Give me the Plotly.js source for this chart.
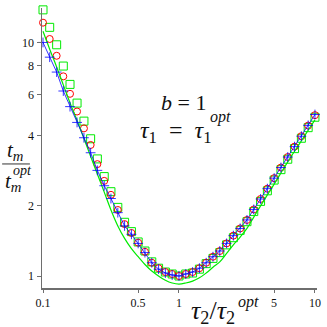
<!DOCTYPE html>
<html>
<head>
<meta charset="utf-8">
<script src="https://cdn.plot.ly/plotly-3.0.1.min.js"></script>
<style>
  html, body { margin: 0; padding: 0; background: #fff; }
  #plot { width: 327px; height: 327px; }
</style>
</head>
<body>
<div id="plot"></div>
<script>
// tau2 / tau2_opt (log-spaced)
const tauRatio = [0.1, 0.112, 0.126, 0.141, 0.158, 0.178, 0.2, 0.224, 0.251, 0.282,
    0.316, 0.355, 0.398, 0.447, 0.501, 0.562, 0.631, 0.708, 0.794, 0.891,
    1, 1.122, 1.259, 1.413, 1.585, 1.778, 1.995, 2.239, 2.512, 2.818,
    3.162, 3.548, 3.981, 4.467, 5.012, 5.623, 6.31, 7.079, 7.943, 8.913, 10];

// t_m / t_m_opt
const squaresGreen = [13.87, 11.67, 9.82, 7.96, 6.64, 5.52, 4.62, 3.88, 3.18, 2.67,
    2.30, 1.97, 1.70, 1.55, 1.40, 1.28, 1.15, 1.08, 1.04, 1.02,
    1.00, 1.02, 1.03, 1.07, 1.13, 1.19, 1.26, 1.36, 1.46, 1.57,
    1.71, 1.89, 2.09, 2.32, 2.58, 2.86, 3.17, 3.52, 3.90, 4.33, 4.80];
const circlesRed = [12.22, 10.40, 8.81, 7.19, 6.05, 5.08, 4.30, 3.65, 3.02, 2.56,
    2.23, 1.92, 1.67, 1.53, 1.39, 1.27, 1.14, 1.08, 1.04, 1.02,
    1.00, 1.02, 1.04, 1.08, 1.14, 1.21, 1.28, 1.38, 1.49, 1.60,
    1.74, 1.93, 2.14, 2.37, 2.63, 2.92, 3.24, 3.59, 3.98, 4.42, 4.90];
const plusBlue = [10.05, 8.69, 7.50, 6.22, 5.33, 4.56, 3.92, 3.38, 2.84, 2.44,
    2.15, 1.87, 1.64, 1.51, 1.38, 1.26, 1.14, 1.07, 1.03, 1.01,
    1.00, 1.02, 1.04, 1.08, 1.14, 1.21, 1.28, 1.38, 1.49, 1.60,
    1.74, 1.93, 2.14, 2.37, 2.63, 2.92, 3.24, 3.59, 3.98, 4.43, 4.93];
const curveGreen = [11.22, 9.40, 7.89, 6.61, 5.53, 4.65, 3.89, 3.26, 2.74, 2.29,
    1.92, 1.64, 1.45, 1.31, 1.21, 1.12, 1.05, 1.00, 0.959, 0.933,
    0.923, 0.933, 0.951, 0.982, 1.03, 1.09, 1.15, 1.25, 1.36, 1.47,
    1.60, 1.79, 2.00, 2.23, 2.48, 2.77, 3.09, 3.43, 3.80, 4.22, 4.68];

const xTicks = [0.1, 0.5, 1, 5, 10];
const xTickText = ['0.1', '0.5', '1', '5', '10'];
const yTicks = [1, 2, 4, 6, 8, 10];
const yTickText = ['1', '2', '4', '6', '8', '10'];

const serif = 'Liberation Serif';
const green = 'rgb(0,235,0)';

const data = [
    { x: tauRatio, y: squaresGreen, type: 'scatter', mode: 'markers', cliponaxis: false,
      marker: { symbol: 'square-open', size: 8, color: green, line: { width: 1, color: green } } },
    { x: tauRatio, y: circlesRed, type: 'scatter', mode: 'markers', cliponaxis: false,
      marker: { symbol: 'circle-open', size: 7, color: 'red', line: { width: 1, color: 'red' } } },
    { x: tauRatio, y: curveGreen, type: 'scatter', mode: 'lines', cliponaxis: false,
      line: { color: green, width: 1.2, shape: 'spline' } },
    { x: tauRatio, y: plusBlue, type: 'scatter', mode: 'lines+markers', cliponaxis: false,
      line: { color: 'blue', width: 0.8 },
      marker: { symbol: 'cross-thin', size: 7, color: 'blue', line: { width: 0.8, color: 'blue' } } }
];

const axisBase = {
    type: 'log',
    showgrid: false,
    zeroline: false,
    showline: true,
    linecolor: '#6e6e6e',
    linewidth: 1.5,
    ticks: 'outside',
    ticklen: 4,
    tickwidth: 1,
    tickcolor: '#6e6e6e',
    tickmode: 'array',
    tickfont: { family: serif, size: 12, color: '#111' }
};

const layout = {
    width: 327,
    height: 327,
    margin: { l: 42, r: 10, t: 8, b: 39 },
    paper_bgcolor: 'white',
    plot_bgcolor: 'white',
    showlegend: false,
    font: { family: serif },
    xaxis: Object.assign({}, axisBase, {
        range: [-1.0074, 1.015],
        tickvals: xTicks, ticktext: xTickText, ticklen: 3
    }),
    yaxis: Object.assign({}, axisBase, {
        range: [-0.0515, 1.15],
        tickvals: yTicks, ticktext: yTickText
    }),
    shapes: [
        // fraction bar of the y label
        { type: 'line', xref: 'paper', yref: 'paper', x0: -0.145, x1: -0.044, y0: 0.443, y1: 0.443,
          line: { color: '#333', width: 1 } }
    ],
    annotations: [
        { xref: 'paper', yref: 'paper', x: 0.516, y: 0.661, xanchor: 'center', yanchor: 'middle',
          text: '<i>b</i> = 1', showarrow: false, font: { family: serif, size: 22, color: '#111' } },
        { xref: 'paper', yref: 'paper', x: 0.349, y: 0.557, xanchor: 'left', yanchor: 'middle',
          text: '<i>τ</i><sub>1</sub>&nbsp; = &nbsp;<i>τ</i><sub>1</sub>', showarrow: false, font: { family: serif, size: 24, color: '#111' } },
        { xref: 'paper', yref: 'paper', x: 0.605, y: 0.612, xanchor: 'left', yanchor: 'middle',
          text: '<i>opt</i>', showarrow: false, font: { family: serif, size: 16, color: '#111' } },
        // y label: t_m / t_m^opt
        { xref: 'paper', yref: 'paper', x: -0.098, y: 0.489, xanchor: 'center', yanchor: 'middle',
          text: '<i>t</i><sub><i>m</i></sub>', showarrow: false, font: { family: serif, size: 21, color: '#111' } },
        { xref: 'paper', yref: 'paper', x: -0.106, y: 0.378, xanchor: 'center', yanchor: 'middle',
          text: '<i>t</i><sub><i>m</i></sub>', showarrow: false, font: { family: serif, size: 21, color: '#111' } },
        { xref: 'paper', yref: 'paper', x: -0.0727, y: 0.421, xanchor: 'center', yanchor: 'middle',
          text: '<i>opt</i>', showarrow: false, font: { family: serif, size: 14, color: '#111' } },
        // x label: tau2 / tau2^opt
        { xref: 'paper', yref: 'paper', x: 0.535, y: -0.0857, xanchor: 'left', yanchor: 'middle',
          text: '<i>τ</i><sub>2</sub>/<i>τ</i><sub>2</sub>', showarrow: false, font: { family: serif, size: 26, color: '#111' } },
        { xref: 'paper', yref: 'paper', x: 0.705, y: -0.05, xanchor: 'left', yanchor: 'middle',
          text: '<i>opt</i>', showarrow: false, font: { family: serif, size: 16, color: '#111' } }
    ]
};

Plotly.newPlot('plot', data, layout, { displayModeBar: false, staticPlot: true });
</script>
</body>
</html>
